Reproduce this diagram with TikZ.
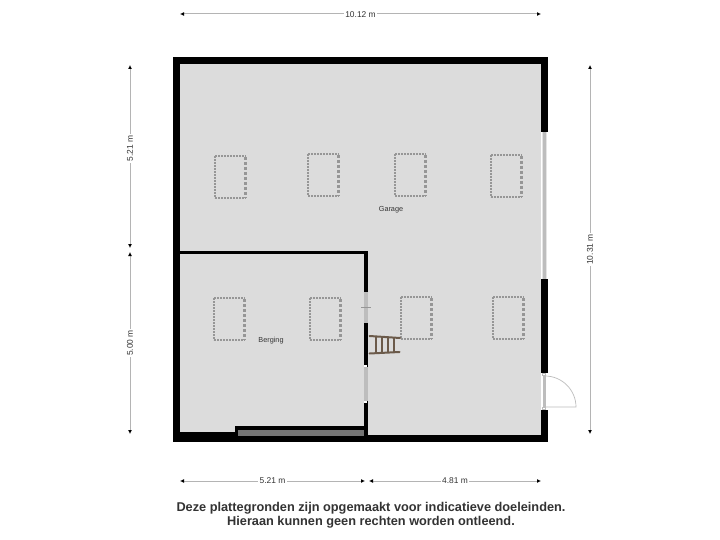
\documentclass[tikz,border=0pt]{standalone}
\usepackage{fontspec}
\setmainfont{Liberation Sans}
\usetikzlibrary{arrows.meta}
\definecolor{floorc}{HTML}{DCDCDC}
\definecolor{glassc}{HTML}{BDBDBD}
\definecolor{edgec}{HTML}{E4E4E4}
\definecolor{dimc}{HTML}{B4B4B4}
\definecolor{ladderc}{HTML}{6B5A4A}
\definecolor{shelfc}{HTML}{747474}
\definecolor{skyc}{HTML}{969696}
\definecolor{txtc}{HTML}{333333}
\tikzset{
  x=1pt,y=-1pt,
  wall/.style={fill=black,draw=none},
  glass/.style={fill=glassc,draw=none},
  dimline/.style={draw=dimc,line width=1pt,{Latex[length=4pt,width=4pt,black]}-{Latex[length=4pt,width=4pt,black]}},
  dimtext/.style={fill=white,text=txtc,font=\fontsize{8.4}{9}\selectfont,inner xsep=1.5pt,inner ysep=1pt},
  roomtext/.style={text=txtc,font=\fontsize{7.3}{9}\selectfont,inner sep=0pt},
  sky/.style={draw=skyc,line width=1.5pt,dash pattern=on 2pt off 1pt},
  skyr/.style={draw=skyc,line width=2.6pt,dash pattern=on 2.6pt off 2.4pt},
  rail/.style={draw=ladderc,line width=2pt,line cap=round},
  rung/.style={draw=ladderc,line width=1.7pt},
}
\newcommand{\skylight}[2]{%
  \draw[sky] (#1,#2) -- ++(31,0);
  \draw[sky,line width=1.2pt] (#1,#2) -- ++(0,42);
  \draw[sky,line width=2pt] (#1,#2+42) -- ++(31,0);
  \draw[skyr] (#1+30.5,#2+1) -- ++(0,41);
}
\begin{document}
\begin{tikzpicture}
\useasboundingbox[fill=white] (0,0) rectangle (720,540);
% outer wall and floor
\fill[wall] (172.5,57) rectangle (548,442);
\fill[floorc] (180,64) rectangle (540.5,435);
% inner walls
\fill[wall] (180,250.5) rectangle (367.5,254);
\fill[wall] (364,250.5) rectangle (367.5,435);
% store shelf step
\fill[wall] (234.5,426) rectangle (364,435);
\fill[wall] (180,431.7) rectangle (238,435);
\fill[shelfc] (238.3,430.3) rectangle (364,435.5);
% inner door and opening
\fill[glass] (364,292) rectangle (367.5,323);
\draw[draw=skyc,line width=0.5pt] (361,307.5) -- (370.5,307.5);
\fill[white] (364.3,364.5) rectangle (367.2,366.5);
\fill[white] (364.3,401) rectangle (367.2,403);
\fill[glass] (364,366.5) rectangle (367.5,401);
% right window
\fill[white] (540.5,132) rectangle (548,278.5);
\fill[edgec] (541.5,132) rectangle (546.7,278.5);
\fill[glass] (542.5,132) rectangle (545.7,278.5);
% outer door
\fill[white] (540.5,373) rectangle (548,410);
\fill[glass] (542.5,375.5) rectangle (545.5,407.5);
\draw[draw=glassc,line width=0.7pt] (542.5,373.3) rectangle (545.5,375.5);
\draw[draw=glassc,line width=0.7pt] (542.5,407.5) rectangle (545.5,409.7);
\draw[draw=glassc,line width=0.7pt] (545,376) .. controls (562,376) and (576,390) .. (576,407) -- (545,407);
% skylights
\skylight{215}{156}
\skylight{308}{154}
\skylight{395}{154}
\skylight{491}{155}
\skylight{214}{298}
\skylight{310}{298}
\skylight{401}{297}
\skylight{493}{297}
% ladder
\foreach \rx in {376,382,388,394} {\draw[rung] (\rx,337) -- (\rx,352);}
\draw[rail] (369.5,336) -- (400,338);
\draw[rail] (369.5,353.5) -- (399.5,352);
% dimensions
\coordinate (tl) at (180,14); \coordinate (tr) at (541,14);
\draw[dimline] (tl) -- node[dimtext,yshift=-0.7pt] {10.12 m} (tr);
\coordinate (la) at (130,65); \coordinate (lb) at (130,248);
\coordinate (lc) at (130,252); \coordinate (ld) at (130,434);
\draw[dimline] (la) -- node[dimtext,rotate=90,pos=0.455] {5.21 m} (lb);
\draw[dimline] (lc) -- node[dimtext,rotate=90] {5.00 m} (ld);
\coordinate (ra) at (590,65); \coordinate (rb) at (590,434);
\draw[dimline] (ra) -- node[dimtext,rotate=90] {10.31 m} (rb);
\coordinate (ba) at (180,481); \coordinate (bb) at (365,481);
\coordinate (bc) at (369,481); \coordinate (bd) at (541,481);
\draw[dimline] (ba) -- node[dimtext] {5.21 m} (bb);
\draw[dimline] (bc) -- node[dimtext] {4.81 m} (bd);
% labels
\node[roomtext] (garage) at (391,210) {Garage};
\node[roomtext] (berging) at (271,341) {Berging};
\node[font=\bfseries\fontsize{12.75}{15}\selectfont,text=txtc,inner sep=0pt] (n1) at (371,508.5) {Deze plattegronden zijn opgemaakt voor indicatieve doeleinden.};
\node[font=\bfseries\fontsize{12.75}{15}\selectfont,text=txtc,inner sep=0pt] (n2) at (371,522.5) {Hieraan kunnen geen rechten worden ontleend.};
\end{tikzpicture}
\end{document}
